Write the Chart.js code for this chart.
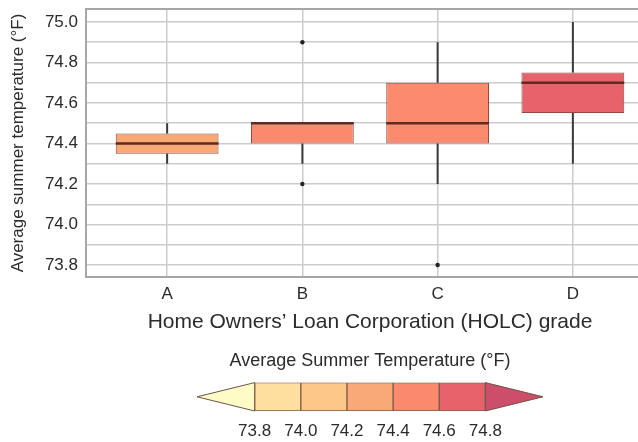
<!DOCTYPE html>
<html>
<head>
<meta charset="utf-8">
<script src="https://cdn.jsdelivr.net/npm/chart.js@4.4.0/dist/chart.umd.min.js"></script>
<style>
  html, body { margin: 0; padding: 0; background: #fff; overflow: hidden; width: 638px; height: 442px; }
  #main { position: absolute; left: 0; top: 0; width: 700px; height: 345px; }
  #legend { position: absolute; left: 0; top: 345px; width: 638px; height: 97px; }
</style>
</head>
<body>
<div id="main"><canvas id="box-chart"></canvas></div>
<div id="legend"><canvas id="scale-chart"></canvas></div>
<script>
// box plot summary per HOLC grade
const grades      = ['A', 'B', 'C', 'D'];
const whiskerLow  = [74.3, 74.3, 74.2, 74.3];
const q1          = [74.35, 74.4, 74.4, 74.55];
const median      = [74.4, 74.5, 74.5, 74.7];
const q3          = [74.45, 74.5, 74.7, 74.75];
const whiskerHigh = [74.5, 74.5, 74.9, 75.0];
const outliers    = [[], [74.9, 74.2], [73.8], []];
const boxColors   = ['#f8a874', '#f98a6e', '#fb8a6f', '#e7626b'];

// y axis: a line every 0.1, a label every 0.2
const yGrid       = [73.8, 73.9, 74.0, 74.1, 74.2, 74.3, 74.4, 74.5, 74.6, 74.7, 74.8, 74.9, 75.0];
const yTickLabels = ['73.8', '74.0', '74.2', '74.4', '74.6', '74.8', '75.0'];

// colour bar legend
const cbarBounds  = [73.8, 74.0, 74.2, 74.4, 74.6, 74.8];
const cbarColors  = ['#fedf9f', '#fdc789', '#f9a877', '#fa8a6e', '#e8626b'];
const cbarLowEnd  = 73.55;
const cbarHighEnd = 75.05;
const cbarLowColor  = '#fefbc6';
const cbarHighColor = '#cc4e6a';

const textColor = '#2b2b2b';
const fontFamily = "'Liberation Sans', Arial, sans-serif";
Chart.defaults.font.family = fontFamily;
Chart.defaults.color = textColor;

// whiskers, medians and the top frame line
const boxExtras = {
  id: 'boxExtras',
  beforeDatasetsDraw(chart) {
    const { ctx, chartArea } = chart;
    ctx.save();
    ctx.strokeStyle = '#a6a6a6';
    ctx.lineWidth = 2;
    ctx.beginPath();
    ctx.moveTo(chartArea.left, chartArea.top);
    ctx.lineTo(chartArea.right, chartArea.top);
    ctx.stroke();
    ctx.restore();
  },
  afterDatasetsDraw(chart) {
    const { ctx } = chart;
    const xs = chart.scales.x, ys = chart.scales.y;
    const bars = chart.getDatasetMeta(0).data;
    ctx.save();
    grades.forEach((g, i) => {
      const x = xs.getPixelForValue(i + 1);
      // whiskers
      ctx.strokeStyle = '#3a3a3a';
      ctx.lineWidth = 2;
      ctx.beginPath();
      ctx.moveTo(x, ys.getPixelForValue(q3[i]));
      ctx.lineTo(x, ys.getPixelForValue(whiskerHigh[i]));
      ctx.moveTo(x, ys.getPixelForValue(q1[i]));
      ctx.lineTo(x, ys.getPixelForValue(whiskerLow[i]));
      ctx.stroke();
      // median
      const half = bars[i].width / 2;
      const my = ys.getPixelForValue(median[i]);
      ctx.strokeStyle = '#5e2a22';
      ctx.lineWidth = 2.5;
      ctx.beginPath();
      ctx.moveTo(x - half, my);
      ctx.lineTo(x + half, my);
      ctx.stroke();
    });
    ctx.restore();
  }
};

new Chart(document.getElementById('box-chart'), {
  type: 'bar',
  data: {
    datasets: [
      {
        data: grades.map((g, i) => ({ x: i + 1, y: [q1[i], q3[i]] })),
        backgroundColor: boxColors,
        borderColor: '#8e4c40',
        borderWidth: 1,
        borderSkipped: false,
        barPercentage: 0.76,
        categoryPercentage: 1
      },
      {
        type: 'scatter',
        data: outliers.flatMap((vals, i) => vals.map(v => ({ x: i + 1, y: v }))),
        pointRadius: 2.2,
        pointBackgroundColor: '#222',
        pointBorderWidth: 0
      }
    ]
  },
  options: {
    responsive: true,
    maintainAspectRatio: false,
    animation: false,
    layout: { padding: { top: 9, right: 46, left: 0, bottom: 0 } },
    plugins: { legend: { display: false }, tooltip: { enabled: false } },
    scales: {
      x: {
        type: 'linear',
        min: 0.4,
        max: 4.6,
        offset: false,
        afterBuildTicks: s => { s.ticks = grades.map((g, i) => ({ value: i + 1 })); },
        afterFit: s => { s.height = 68; s.paddingLeft = 0; s.paddingRight = 0; },
        ticks: {
          callback: v => grades[Math.round(v) - 1] || '',
          autoSkip: false,
          maxRotation: 0,
          padding: 7,
          font: { size: 17 }
        },
        grid: { color: '#cccccc', lineWidth: 1.5, drawTicks: false, offset: false },
        border: { color: '#a6a6a6', width: 2 },
        title: {
          display: true,
          text: 'Home Owners\u2019 Loan Corporation (HOLC) grade',
          font: { size: 21 },
          padding: { top: 0, bottom: 10 }
        }
      },
      y: {
        min: 73.741,
        max: 75.064,
        afterBuildTicks: s => { s.ticks = yGrid.map(v => ({ value: v })); },
        afterFit: s => { s.width = 86; s.paddingTop = 0; s.paddingBottom = 0; },
        ticks: {
          callback: v => {
            const t = v.toFixed(1);
            return yTickLabels.includes(t) ? t : '';
          },
          autoSkip: false,
          padding: 8,
          font: { size: 17 }
        },
        grid: { color: '#cccccc', lineWidth: 1.5, drawTicks: false },
        border: { color: '#a6a6a6', width: 2 },
        title: {
          display: true,
          text: 'Average summer temperature (\u00b0F)',
          font: { size: 17 },
          padding: { top: 8, bottom: 0 }
        }
      }
    }
  },
  plugins: [boxExtras]
});

// pointed ends of the colour bar
const barEnds = {
  id: 'barEnds',
  afterDatasetsDraw(chart) {
    const { ctx } = chart;
    const xs = chart.scales.x;
    const bar = chart.getDatasetMeta(0).data[0];
    const top = bar.y - bar.height / 2, bottom = bar.y + bar.height / 2;
    const ends = [
      [cbarBounds[0], cbarLowEnd, cbarLowColor],
      [cbarBounds[cbarBounds.length - 1], cbarHighEnd, cbarHighColor]
    ];
    ctx.save();
    ends.forEach(([base, tip, color]) => {
      const bx = xs.getPixelForValue(base), tx = xs.getPixelForValue(tip);
      ctx.beginPath();
      ctx.moveTo(bx, top);
      ctx.lineTo(tx, bar.y);
      ctx.lineTo(bx, bottom);
      ctx.closePath();
      ctx.fillStyle = color;
      ctx.fill();
      ctx.strokeStyle = '#6e5444';
      ctx.lineWidth = 1;
      ctx.stroke();
    });
    ctx.restore();
  }
};

new Chart(document.getElementById('scale-chart'), {
  type: 'bar',
  data: {
    labels: [''],
    datasets: cbarColors.map((c, i) => ({
      data: [[cbarBounds[i], cbarBounds[i + 1]]],
      backgroundColor: c,
      borderColor: '#7d5b47',
      borderWidth: 1,
      borderSkipped: false,
      grouped: false,
      barPercentage: 1,
      categoryPercentage: 1
    }))
  },
  options: {
    indexAxis: 'y',
    responsive: true,
    maintainAspectRatio: false,
    animation: false,
    layout: { padding: { left: 197, right: 95, top: 0, bottom: 0 } },
    plugins: {
      legend: { display: false },
      tooltip: { enabled: false },
      title: {
        display: true,
        text: 'Average Summer Temperature (\u00b0F)',
        font: { size: 18, weight: 'normal' },
        color: textColor,
        padding: { top: 5, bottom: 11 }
      }
    },
    scales: {
      x: {
        type: 'linear',
        min: cbarLowEnd,
        max: cbarHighEnd,
        afterBuildTicks: s => { s.ticks = cbarBounds.map(v => ({ value: v })); },
        afterFit: s => { s.height = 31; },
        ticks: {
          callback: v => v.toFixed(1),
          autoSkip: false,
          maxRotation: 0,
          padding: 10,
          font: { size: 17 }
        },
        grid: { display: false, drawTicks: false },
        border: { display: false }
      },
      y: { display: false }
    }
  },
  plugins: [barEnds]
});
</script>
</body>
</html>
